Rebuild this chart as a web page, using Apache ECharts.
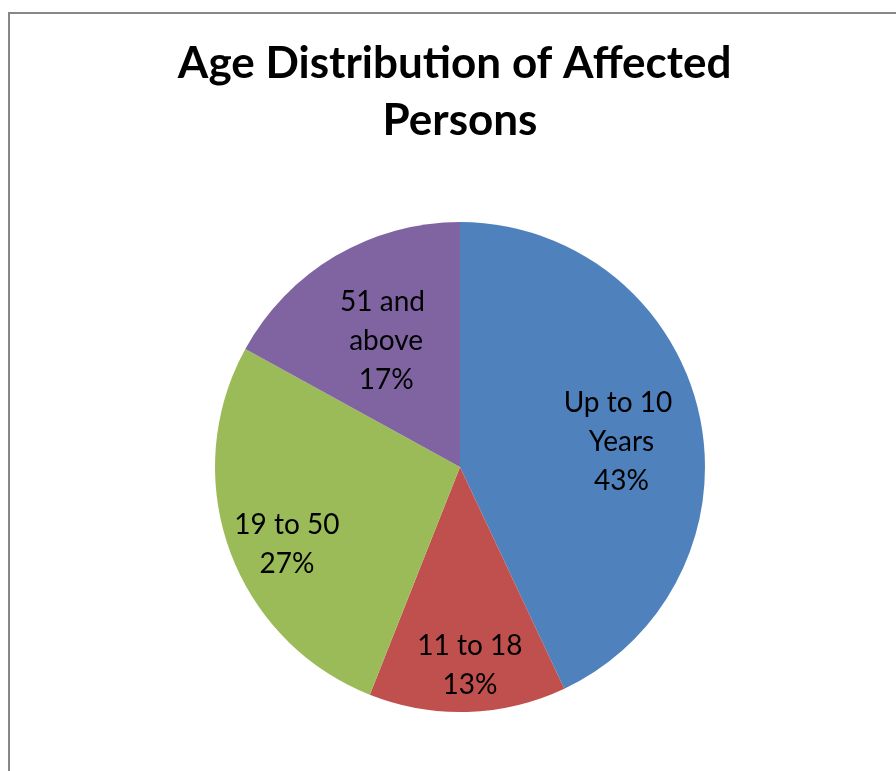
<!DOCTYPE html>
<html>
<head>
<meta charset="utf-8">
<script src="https://cdn.jsdelivr.net/npm/echarts@6/dist/echarts.min.js"></script>
<style>
  html, body { margin: 0; padding: 0; background: #fff; overflow: hidden; }
  #frame {
    position: absolute; left: 8px; top: 12px; width: 901px; height: 800px;
    border: 2px solid #878787; box-sizing: border-box;
  }
  #chart { position: absolute; left: 0; top: 0; width: 920px; height: 771px; }
</style>
</head>
<body>
<div id="frame"></div>
<div id="chart"></div>
<script>
// Age groups and their share of affected persons (%)
const categories = ['Up to 10 Years', '11 to 18', '19 to 50', '51 and above'];
const shares = [43, 13, 27, 17];
const colors = ['#4F81BD', '#C0504D', '#9BBB59', '#8064A2'];

// Nudges from the default "inside" label anchor, per slice
const labelOffsets = [[39, 2], [6, 73], [-55, 35], [-10, -18]];

const chart = echarts.init(document.getElementById('chart'), null, { renderer: 'canvas' });

chart.setOption({
  animation: false,
  backgroundColor: 'transparent',
  title: {
    text: 'Age Distribution of Affected Persons',
    left: 'center',
    top: 30,
    textStyle: {
      fontFamily: 'Lato',
      fontWeight: 'bold',
      fontSize: 44,
      color: '#000',
      lineHeight: 57,
      width: 640,
      overflow: 'break'
    }
  },
  series: [{
    type: 'pie',
    center: [460, 467],
    radius: [0, 245],
    startAngle: 90,
    clockwise: true,
    avoidLabelOverlap: false,
    silent: true,
    itemStyle: { borderWidth: 0 },
    label: {
      show: true,
      position: 'inside',
      formatter: '{b}\n{d}%',
      fontFamily: 'Lato',
      fontSize: 28,
      lineHeight: 39,
      color: '#000',
      width: 130,
      overflow: 'break',
      align: 'center'
    },
    labelLine: { show: false },
    data: categories.map((name, i) => ({
      name: name,
      value: shares[i],
      itemStyle: { color: colors[i] },
      label: { offset: labelOffsets[i] }
    }))
  }]
});
</script>
</body>
</html>
